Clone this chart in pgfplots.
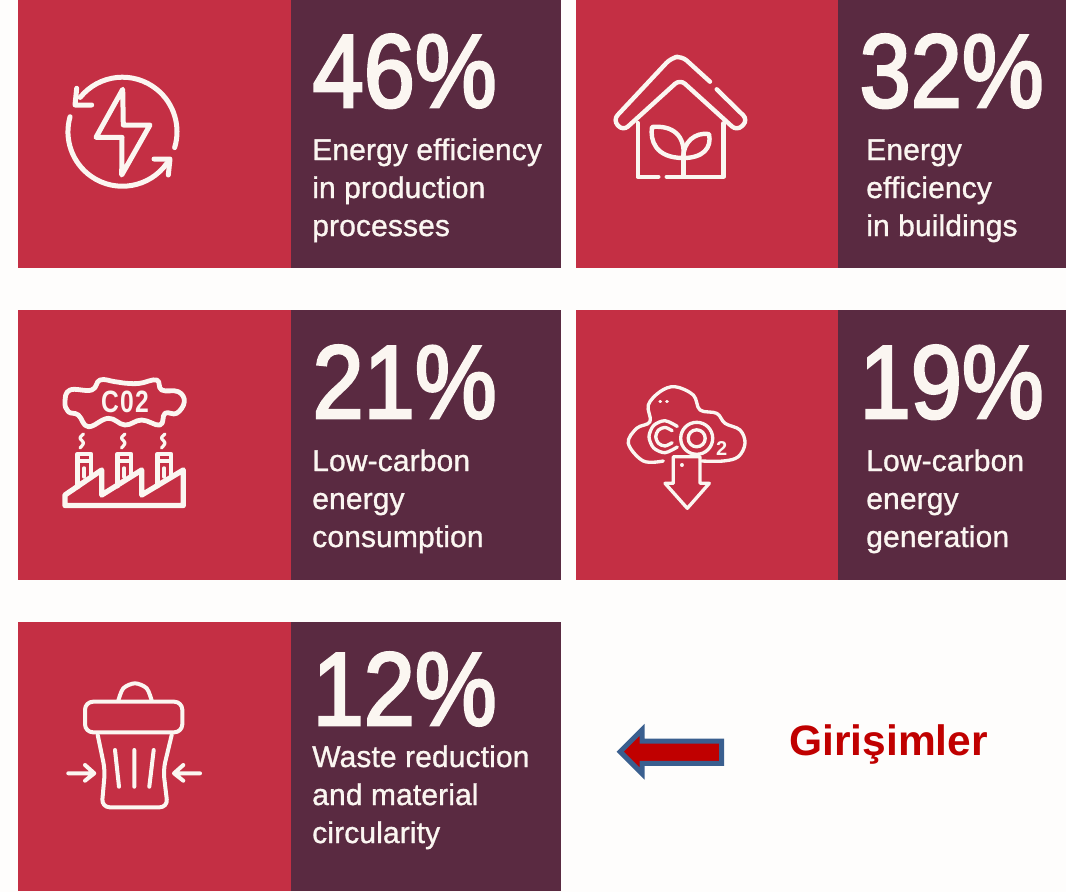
\documentclass[border=0pt]{standalone}
\usepackage{fontspec}
\usepackage{graphicx}
\usepackage{pgfplots}
\pgfplotsset{compat=1.18}
\setmainfont{Liberation Sans}
\newfontfamily\numfont[FakeBold=2.8]{Liberation Sans}
\newfontfamily\lblfont[FakeBold=1.0,LetterSpace=0.4]{Liberation Sans}
\definecolor{panelred}{HTML}{C42F44}
\definecolor{panelpur}{HTML}{5A2A41}
\definecolor{ink}{HTML}{FBF6F1}
\definecolor{backg}{HTML}{FEFDFC}
\definecolor{arrowblue}{HTML}{3A5F8F}
\definecolor{darkred}{HTML}{C00000}
\newcommand{\bignum}[3]{\node[anchor=base east,inner sep=0pt,text=ink] at (#1,#2) {\scalebox{1}[1.13]{\fontsize{69}{69}\numfont #3}};}
\newcommand{\lbl}[3]{\node[anchor=base west,inner sep=0pt,text=ink] at (#1,#2) {\fontsize{22.5}{22.5}\lblfont #3};}
\begin{document}
\begin{tikzpicture}
\begin{axis}[
  scale only axis, width=799.5pt, height=669pt,
  xmin=0, xmax=1066, ymin=0, ymax=892, y dir=reverse,
  hide axis, clip=false,
  every axis plot/.append style={mark=none,draw=none},
]
\addplot[fill=backg] coordinates {(0,0)(1066,0)(1066,892)(0,892)};
% red panels
\addplot[fill=panelred] coordinates {(18,0)(291,0)(291,268)(18,268)};
\addplot[fill=panelred] coordinates {(576,0)(838,0)(838,268)(576,268)};
\addplot[fill=panelred] coordinates {(18,310)(291,310)(291,580)(18,580)};
\addplot[fill=panelred] coordinates {(576,310)(838,310)(838,580)(576,580)};
\addplot[fill=panelred] coordinates {(18,622)(291,622)(291,891)(18,891)};
% purple panels
\addplot[fill=panelpur] coordinates {(291,0)(561,0)(561,268)(291,268)};
\addplot[fill=panelpur] coordinates {(838,0)(1066,0)(1066,268)(838,268)};
\addplot[fill=panelpur] coordinates {(291,310)(561,310)(561,580)(291,580)};
\addplot[fill=panelpur] coordinates {(838,310)(1066,310)(1066,580)(838,580)};
\addplot[fill=panelpur] coordinates {(291,622)(561,622)(561,891)(291,891)};

\bignum{497}{107}{46\%}
\bignum{1044}{107}{32\%}
\bignum{497}{418}{21\%}
\bignum{1044}{418}{19\%}
\bignum{497}{725}{12\%}

\lbl{312}{160}{Energy efficiency}
\lbl{312}{198}{in production}
\lbl{312}{236}{processes}
\lbl{866}{160}{Energy}
\lbl{866}{198}{efficiency}
\lbl{866}{236}{in buildings}
\lbl{312}{471}{Low-carbon}
\lbl{312}{509}{energy}
\lbl{312}{547}{consumption}
\lbl{866}{471}{Low-carbon}
\lbl{866}{509}{energy}
\lbl{866}{547}{generation}
\lbl{312}{767}{Waste reduction}
\lbl{312}{805}{and material}
\lbl{312}{843}{circularity}

% icon 1
\begin{scope}[draw=ink,line width=3.75pt,line cap=round,line join=round]
\draw (80.15,97.4) arc[start angle=-141,end angle=17,radius=54.5];
\draw (167.1,163) arc[start angle=35,end angle=196,radius=54.5];
\draw (76.7,88.3)--(75,105)--(91.7,105);
\draw (154,159)--(170,159)--(168.3,175);
\draw (122.7,89.3)--(96,137.3)--(122,137.3)--(121.7,175)--(150,125)--(123.3,125)--cycle;
\end{scope}
% icon 2
\begin{scope}[draw=ink,line width=3.3pt,line cap=round,line join=round]
\draw[rounded corners=5pt] (710,81.7)--(681.7,56)--(671,58)--(613,120)--(623,131)--(680,79.3)--(737,131)--(748,120)--(716.7,89.3);
\draw (637.7,123)--(637.7,176.7)--(658.3,176.7);
\draw (666.7,176.7)--(723.3,176.7)--(723.3,123.3);
\draw (683.3,176.7)--(683.3,158);
\draw (683.3,158) .. controls (655,158) and (650,140) .. (652,127) .. controls (672,125) and (686,135) .. (683.3,158);
\draw (683.3,158) .. controls (703,158) and (712,148) .. (709,134) .. controls (695,132) and (683,142) .. (683.3,158);
\end{scope}
% icon 3
\begin{scope}[draw=ink,line width=3.6pt,line cap=round,line join=round]
\draw plot[smooth cycle,tension=0.7] coordinates {(65,401.7)(70,390)(91.7,390)(100,380)(115,381.7)(126.7,383.3)(140,383.3)(156.7,380)(161.7,390)(178.3,391.7)(184.3,401.7)(176.7,413.3)(165,413.3)(160,425)(141.7,420)(125,425)(108.3,418.3)(88.3,426.7)(78.3,415)(68.3,411.7)};
\draw[line width=4pt] (65,495)--(101.7,470)--(101.7,495)--(141.7,470)--(141.7,495)--(183.3,470)--(183.3,505.5)--(65,505.5)--cycle;
\draw (77.5,487)--(77.5,454)--(91,454)--(91,477);
\draw (117.5,486)--(117.5,454)--(131,454)--(131,476);
\draw (157.5,486)--(157.5,454)--(171,454)--(171,477);
\draw[line width=2.6pt] (79,461)--(89,461) (119,461)--(129,461) (159,461)--(169,461);
\draw[line width=2.6pt] (84.2,468)--(84.2,477) (124.2,468)--(124.2,477) (164.2,468)--(164.2,477);
\draw[line width=2.4pt] plot[smooth] coordinates {(83.5,434)(80,438)(83.5,443)(80,448)};
\draw[line width=2.4pt] plot[smooth] coordinates {(125,434)(121.5,438)(125,443)(121.5,448)};
\draw[line width=2.4pt] plot[smooth] coordinates {(165,434)(161.5,438)(165,443)(161.5,448)};
\end{scope}
\node[text=ink,inner sep=0pt] at (125,402) {\scalebox{1}[1.25]{\fontsize{18.5}{18.5}\bfseries C\kern1pt0\kern1pt2}};
% icon 4
\begin{scope}[draw=ink,line width=2.5pt,line cap=round,line join=round]
\draw plot[smooth,tension=0.6] coordinates {(663.3,461)(643.3,461)(628.3,443.3)(636.7,428.3)(650,421.7)(648.3,405)(660,391.7)(675,386.7)(693.3,395)(700,410)(716.7,413.3)(725,423.3)(740,430)(745,443.3)(738.3,456.7)(723.3,461)(701.7,461)};
\draw plot[smooth] coordinates {(677.3,426.4)(665,420.7)(653.7,425.4)(649,436.7)(653.7,448)(665,452.7)(677.3,447)};
\draw plot[smooth] coordinates {(672.1,430.7)(665,427.4)(658.4,430.1)(655.7,436.7)(658.4,443.3)(665,446)(672.1,442.7)};
\draw (696.7,438.3) circle[radius=16];
\draw (696.7,438.3) circle[radius=8.5];
\draw (673.3,456.7)--(673.3,483.3)--(665,483.3)--(687.3,508.3)--(709.3,483.3)--(700,483.3)--(700,456.7)--cycle;
\draw (660,401.7)--(660.5,401.7) (666.7,401.7)--(667.2,401.7) (681.7,465)--(682.2,465);
\end{scope}
\node[text=ink,inner sep=0pt] at (721.7,449) {\fontsize{15}{15}\bfseries 2};
% icon 5
\begin{scope}[draw=ink,line width=3pt,line cap=round,line join=round]
\draw plot[smooth] coordinates {(118.3,700.7)(123.3,688.3)(135,683.3)(146.7,688.3)(151.7,700.7)};
\draw[rounded corners=6pt] (85,701.7)--(182.3,701.7)--(182.3,732.3)--(85,732.3)--cycle;
\draw[rounded corners=6pt] (97.7,735)--(105,770)--(101.7,807.3)--(167.7,807.3)--(163.3,770)--(171.7,735);
\draw (115,750)--(119,786.7) (134.3,750)--(134.3,786.7) (153.7,750)--(149.3,786.7);
\draw (68.3,773.3)--(93.3,773.3) (85,765)--(94.3,773.3)--(85,780.7);
\draw (200,773.3)--(175,773.3) (183.3,765)--(174,773.3)--(183.3,780.7);
\end{scope}
% arrow
\draw[draw=arrowblue,fill=darkred,line width=3.75pt,miter limit=10]
  (620.2,751.7)--(642,729.9)--(642,741)--(721.5,741)--(721.5,763.3)--(642,763.3)--(642,773.5)--cycle;
\node[anchor=base west,inner sep=0pt,text=darkred] at (789,755) {\fontsize{31.9}{31.9}\bfseries Girişimler};
\end{axis}
\end{tikzpicture}
\end{document}
